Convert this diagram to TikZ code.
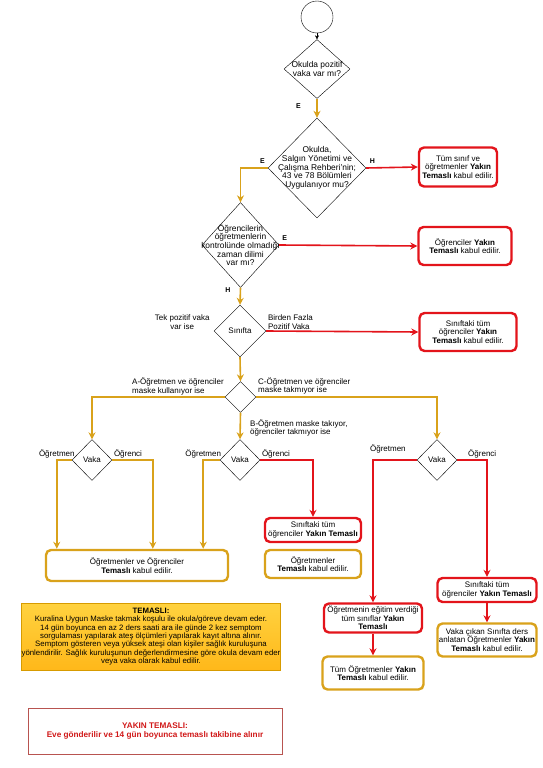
\documentclass[tikz,border=0pt]{standalone}
\usepackage{fontspec}
\setmainfont{Liberation Sans}
\usetikzlibrary{shapes.geometric, arrows.meta, positioning}

\definecolor{gold}{HTML}{D9A21B}
\definecolor{alarm}{HTML}{E3141B}
\definecolor{notetop}{HTML}{FFD23F}
\definecolor{notebot}{HTML}{FFB81A}
\definecolor{noteline}{HTML}{D79B00}
\definecolor{homeline}{HTML}{B85450}
\definecolor{hometext}{HTML}{D01818}

\begin{document}
\begin{tikzpicture}[
    x=1pt, y=-1pt,
    font=\fontsize{8}{8.6}\selectfont,
    decision/.style={diamond, draw, thin, fill=white, inner sep=0pt},
    dtext/.style={align=center, font=\fontsize{8.4}{8.6}\selectfont},
    redbox/.style={rectangle, draw=alarm, line width=2.4pt, rounded corners=5pt, fill=white, align=center, inner sep=1pt},
    goldbox/.style={rectangle, draw=gold, line width=2.4pt, rounded corners=5pt, fill=white, align=center, inner sep=1pt},
    yes/.style={-{Stealth[length=7pt, width=7pt]}, gold, line width=1.6pt},
    no/.style={-{Stealth[length=7pt, width=7pt]}, alarm, line width=1.6pt},
    tag/.style={font=\fontsize{7}{8}\selectfont\bfseries, text=black},
    cond/.style={align=left, text=black, inner sep=1pt},
]
  \useasboundingbox (0,0) rectangle (542,768);

  \node[circle, draw, thin, minimum size=32pt] (start) at (317,17) {};
  \node[decision, minimum width=66, minimum height=59,
        label={[dtext]center:{Okulda pozitif\\vaka var mı?}}] (d1) at (317,69) {};
  \node[decision, minimum width=98, minimum height=100,
        label={[dtext]center:{Okulda,\\Salgın Yönetimi ve\\Çalışma Rehberi'nin;\\43 ve 78 Bölümleri\\Uygulanıyor mu?}}] (d2) at (317,168) {};
  \node[decision, minimum width=77, minimum height=85,
        label={[dtext]center:{Öğrencilerin\\öğretmenlerin\\kontrolünde olmadığı\\zaman dilimi\\var mı?}}] (d3) at (240.5,245) {};
  \node[decision, minimum width=52, minimum height=52,
        label={center:Sınıfta}] (d4) at (240,331) {};
  \node[decision, minimum width=31, minimum height=31] (d5) at (240.5,397) {};
  \node[decision, minimum width=40, minimum height=41, label={center:Vaka}] (d6) at (92,460) {};
  \node[decision, minimum width=40, minimum height=41, label={center:Vaka}] (d7) at (240,460) {};
  \node[decision, minimum width=40, minimum height=41, label={center:Vaka}] (d8) at (437,460) {};

  \node[redbox, minimum width=78, minimum height=39] (b1) at (458,167)
    {Tüm sınıf ve\\öğretmenler \textbf{Yakın}\\\textbf{Temaslı} kabul edilir.};
  \node[redbox, minimum width=93, minimum height=38] (b2) at (465,246)
    {Öğrenciler \textbf{Yakın}\\\textbf{Temaslı} kabul edilir.};
  \node[redbox, minimum width=97, minimum height=38] (b3) at (468,332)
    {Sınıftaki tüm\\öğrenciler \textbf{Yakın}\\\textbf{Temaslı} kabul edilir.};
  \node[goldbox, minimum width=182, minimum height=31] (b4) at (137,565.5)
    {Öğretmenler ve Öğrenciler\\\textbf{Temaslı} kabul edilir.};
  \node[redbox, minimum width=96, minimum height=24] (b5) at (313,530)
    {Sınıftaki tüm\\öğrenciler \textbf{Yakın Temaslı}};
  \node[goldbox, minimum width=96, minimum height=28] (b6) at (313,564)
    {Öğretmenler\\\textbf{Temaslı} kabul edilir.};
  \node[redbox, minimum width=98, minimum height=29] (b7) at (373,618)
    {Öğretmenin eğitim verdiği\\tüm sınıflar \textbf{Yakın}\\\textbf{Temaslı}};
  \node[redbox, minimum width=99, minimum height=24] (b8) at (487,590)
    {Sınıftaki tüm\\öğrenciler \textbf{Yakın Temaslı}};
  \node[goldbox, minimum width=99, minimum height=33] (b9) at (487,640)
    {Vaka çıkan Sınıfta ders\\anlatan Öğretmenler \textbf{Yakın}\\\textbf{Temaslı} kabul edilir.};
  \node[goldbox, minimum width=101, minimum height=33] (b10) at (373,673)
    {Tüm Öğretmenler \textbf{Yakın}\\\textbf{Temaslı} kabul edilir.};

  \node[rectangle, draw=noteline, thin, top color=notetop, bottom color=notebot,
        minimum width=258, minimum height=67, align=center, inner sep=0pt,
        font=\fontsize{7.8}{8.3}\selectfont] (note) at (151,636.5)
    {\textbf{TEMASLI:}\\
     Kuralina Uygun Maske takmak koşulu ile okula/göreve devam eder.\\
     14 gün boyunca en az 2 ders saati ara ile günde 2 kez semptom\\
     sorgulaması yapılarak ateş ölçümleri yapılarak kayıt altına alınır.\\
     Semptom gösteren veya yüksek ateşi olan kişiler sağlık kuruluşuna\\
     yönlendirilir. Sağlık kuruluşunun değerlendirmesine göre okula devam eder\\
     veya vaka olarak kabul edilir.};
  \node[rectangle, draw=homeline, thin, minimum width=254, minimum height=46,
        align=center, text=hometext, font=\fontsize{8.2}{9.8}\selectfont\bfseries] (home) at (155,731)
    {YAKIN TEMASLI:\\Eve gönderilir ve 14 gün boyunca temaslı takibine alınır};

  \draw[thin, -{Stealth[length=4pt, width=4pt]}] (start) -- (d1);
  \draw[yes] (d1) -- node[tag, left=12pt, pos=0.4] {E} (d2);
  \draw[no] (d2.east) -- node[tag, above, pos=0.12] {H} (b1.west);
  \draw[yes] (d2.west) -| node[tag, above, pos=0.1] {E} (d3.north);
  \draw[no] (d3.east) -- node[tag, above, pos=0.04] {E} (b2.west);
  \draw[yes] (d3.south) -- node[tag, left=6pt, pos=0.12] {H} (d4.north);
  \draw[no] (d4.east) -- node[cond, anchor=south west, pos=0] {Birden Fazla\\Pozitif Vaka} (b3.west);
  \node[cond, align=center, left=3pt of d4, yshift=9pt] (tek) {Tek pozitif vaka\\var ise};
  \draw[yes] (d4.south) -- (d5.north);

  \draw[yes] (d5.west) -| (d6.north);
  \draw[yes] (d5.south) -- (d7.north);
  \draw[yes] (d5.east) -| (d8.north);
  \node[cond, anchor=west] (caseA) at (131,386.5) {A-Öğretmen ve öğrenciler\\maske kullanıyor ise};
  \node[cond, anchor=west] (caseC) at (257,386) {C-Öğretmen ve öğrenciler\\maske takmıyor ise};
  \node[cond, anchor=west] (caseB) at (249,428) {B-Öğretmen maske takıyor,\\öğrenciler takmıyor ise};

  \draw[yes] (d6.west) -| node[cond, above, pos=0.5] {Öğretmen} ([xshift=12pt]b4.north west);
  \draw[yes] (d6.east) -| node[cond, above right, pos=0] {Öğrenci} ([xshift=108pt]b4.north west);
  \draw[yes] (d7.west) -| node[cond, above, pos=0.5] {Öğretmen} ([xshift=-26pt]b4.north east);
  \draw[no] (d7.east) -| node[cond, above right, pos=0] {Öğrenci} (b5.north);
  \draw[no] (d8.west) -| node[cond, above=5pt, pos=0.33] {Öğretmen} (b7.north);
  \draw[no] (d8.east) -| node[cond, above, pos=0.42] {Öğrenci} (b8.north);
  \draw[no] (b8) -- (b9);
  \draw[no] (b7) -- (b10);
\end{tikzpicture}
\end{document}
